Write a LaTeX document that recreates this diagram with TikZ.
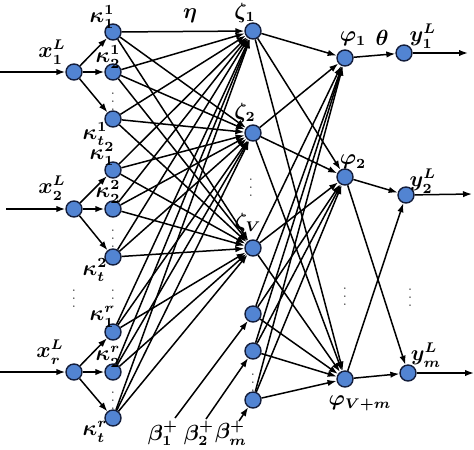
\documentclass[tikz,border=0pt]{standalone}
\usepackage{amsmath}
\usetikzlibrary{arrows.meta}
\definecolor{nodeblue}{RGB}{82,132,210}
\definecolor{nodeedge}{RGB}{20,30,60}

\begin{document}
\begin{tikzpicture}[x=0.5pt,y=-0.5pt,>={Latex[length=4.5pt,width=3.2pt]},
  neuron/.style={circle,draw=nodeedge,fill=nodeblue,line width=0.7pt,minimum size=8pt,inner sep=0pt},
  lab/.style={font=\fontsize{10.5}{12}\selectfont\boldmath,inner sep=0pt},
  link/.style={->,line width=0.75pt},
  vdot/.style={font=\scriptsize,inner sep=0pt,text=black!70}]
  \useasboundingbox (0,0) rectangle (474,449);
  % 入力層
  \node[neuron] (x1) at (74,72) {};
  \node[neuron] (x2) at (74,209) {};
  \node[neuron] (xr) at (74,372) {};
  \node[lab] (lx1) at (52,52) {$x_1^L$};
  \node[lab] (lx2) at (52,188) {$x_2^L$};
  \node[lab] (lxr) at (50,352) {$x_r^L$};
  \coordinate (in1) at (0,72);
  \coordinate (in2) at (6,209);
  \coordinate (inr) at (0,372);
  \draw[link] (in1) -- (x1);
  \draw[link] (in2) -- (x2);
  \draw[link] (inr) -- (xr);
  % kappa
  \node[neuron] (k11) at (113,32) {};
  \node[neuron] (k12) at (113,72) {};
  \node[neuron] (k1t) at (113,119) {};
  \node[neuron] (k21) at (113,170) {};
  \node[neuron] (k22) at (113,209) {};
  \node[neuron] (k2t) at (113,257) {};
  \node[neuron] (kr1) at (113,332) {};
  \node[neuron] (kr2) at (113,372) {};
  \node[neuron] (krt) at (113,418) {};
  \node[lab] (lk11) at (102,17) {$\kappa_1^1$};
  \node[lab] (lk12) at (108,57) {$\kappa_2^1$};
  \node[lab] (lk1t) at (95,134) {$\kappa_t^1$};
  \node[lab] (lk21) at (102,154) {$\kappa_1^2$};
  \node[lab] (lk22) at (108,192) {$\kappa_2^2$};
  \node[lab] (lk2t) at (95,270) {$\kappa_t^2$};
  \node[lab] (lkr1) at (102,317) {$\kappa_1^r$};
  \node[lab] (lkr2) at (108,357) {$\kappa_2^r$};
  \node[lab] (lkrt) at (95,432) {$\kappa_t^r$};
  \node[vdot] (d1) at (113,96) {$\vdots$};
  \node[vdot] (d2) at (113,233) {$\vdots$};
  \node[vdot] (d3) at (113,395) {$\vdots$};
  \node[vdot] (d4) at (74,293) {$\vdots$};
  \node[vdot] (d5) at (113,293) {$\vdots$};
  \foreach \g in {1,2,r}
    \foreach \k in {1,2,t}
      \draw[link] (x\g) -- (k\g\k);
  % zeta と beta
  \node[neuron] (z1) at (253,31) {};
  \node[neuron] (z2) at (253,133) {};
  \node[neuron] (zV) at (253,248) {};
  \node[neuron] (b1) at (253,314) {};
  \node[neuron] (b2) at (253,351) {};
  \node[neuron] (bm) at (253,400) {};
  \node[lab] (lz1) at (245,13) {$\zeta_1$};
  \node[lab] (lz2) at (245,113) {$\zeta_2$};
  \node[lab] (lzV) at (248,223) {$\zeta_V$};
  \node[vdot] (d6) at (251,182) {$\vdots$};
  \node[vdot] (d7) at (253,377) {$\vdots$};
  \node[lab] (leta) at (190,16) {$\boldsymbol{\eta}$};
  \foreach \g in {1,2,r}
    \foreach \k in {1,2,t}
      \foreach \z in {z1,z2,zV}
        \draw[link] (k\g\k) -- (\z);
  \node[lab] (lb1) at (163,433) {$\beta_1^+$};
  \node[lab] (lb2) at (199,433) {$\beta_2^+$};
  \node[lab] (lbm) at (231,433) {$\beta_m^+$};
  \coordinate (sb1) at (175,418);
  \coordinate (sb2) at (206,419);
  \coordinate (sbm) at (239,421);
  \draw[link] (sb1) -- (b1);
  \draw[link] (sb2) -- (b2);
  \draw[link] (sbm) -- (bm);
  % phi
  \node[neuron] (p1) at (345,58) {};
  \node[neuron] (p2) at (345,177) {};
  \node[neuron] (pVm) at (345,379) {};
  \node[lab] (lp1) at (353,39) {$\varphi_1$};
  \node[lab] (lp2) at (353,162) {$\varphi_2$};
  \node[lab] (lpVm) at (360,403) {$\varphi_{V+m}$};
  \node[vdot] (d8) at (345,291) {$\vdots$};
  \foreach \z in {z1,z2,zV,b1,b2,bm}
    \foreach \p in {p1,p2,pVm}
      \draw[link] (\z) -- (\p);
  % 出力層
  \node[neuron] (y1) at (404,53) {};
  \node[neuron] (y2) at (406,195) {};
  \node[neuron] (ym) at (408,373) {};
  \node[lab] (ly1) at (423,36) {$y_1^L$};
  \node[lab] (ly2) at (423,181) {$y_2^L$};
  \node[lab] (lym) at (426,355) {$y_m^L$};
  \node[lab] (ltheta) at (382,38) {$\boldsymbol{\theta}$};
  \node[vdot] (d9) at (410,292) {$\vdots$};
  \draw[link] (p1) -- (y1);
  \draw[link] (p2) -- (y2);
  \draw[link] (p2) -- (ym);
  \draw[link] (pVm) -- (y2);
  \draw[link] (pVm) -- (ym);
  \coordinate (out1) at (468,53);
  \coordinate (out2) at (472,194);
  \coordinate (outm) at (474,373);
  \draw[link] (y1) -- (out1);
  \draw[link] (y2) -- (out2);
  \draw[link] (ym) -- (outm);
\end{tikzpicture}
\end{document}
